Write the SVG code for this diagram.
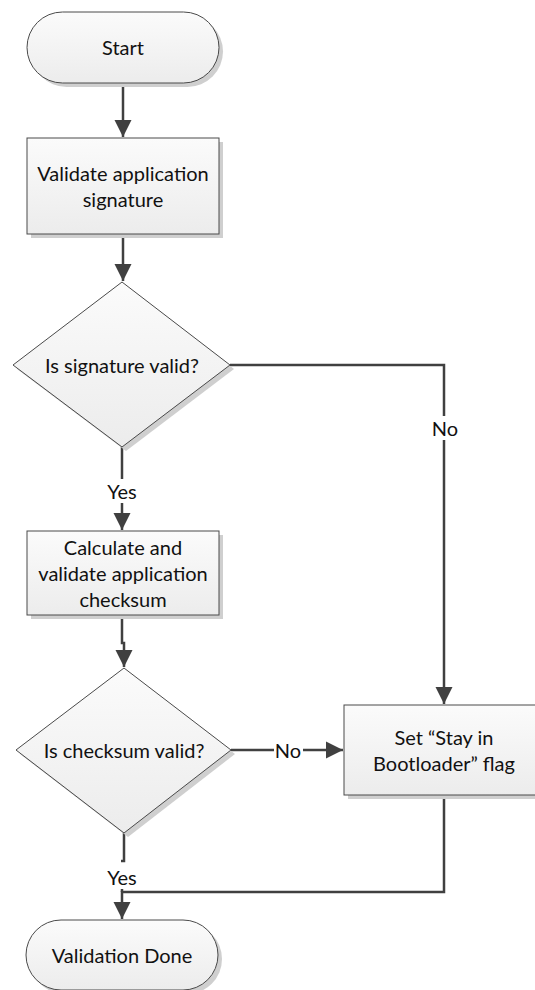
<svg xmlns="http://www.w3.org/2000/svg" width="535" height="990" viewBox="0 0 535 990">
  <defs>
    <linearGradient id="nodeFill" x1="0" y1="0" x2="0" y2="1">
      <stop offset="0" stop-color="#fbfbfb"/>
      <stop offset="1" stop-color="#ececec"/>
    </linearGradient>
    <marker id="arrow" viewBox="0 0 10 10" refX="10" refY="5" markerWidth="7" markerHeight="7" markerUnits="strokeWidth" orient="auto">
      <path d="M0,0 L10,5 L0,10 z" fill="#404040"/>
    </marker>
  </defs>
  <style>
    .node { fill: url(#nodeFill); stroke: #4a4a4a; stroke-width: 1; }
    .shadow { fill: #cfcfcf; }
    .label { font-family: "Lato", "Liberation Sans", sans-serif; font-size: 20px; fill: #111; text-anchor: middle; dominant-baseline: central; }
    .edge { fill: none; stroke: #404040; stroke-width: 2.5; }
    .arrow { marker-end: url(#arrow); }
    .elabel-bg { fill: #ffffff; }
  </style>
  <rect width="535" height="990" fill="#ffffff"/>

  <!-- connectors -->
  <g id="connectors">
    <path class="edge arrow" d="M123,83 V137"/>
    <path class="edge arrow" d="M123,234 V281"/>
    <path class="edge arrow" d="M230,365 H444 V704"/>
    <path class="edge arrow" d="M122,447 V530"/>
    <path class="edge arrow" d="M122,615 V643 H124 V667"/>
    <path class="edge arrow" d="M231,750 H343"/>
    <path class="edge" d="M124,833 V861 H121"/>
    <path class="edge arrow" d="M444,795 V892 H122 V919"/>
    <path class="edge" d="M122,878 V892"/>
    <!-- branch labels -->
    <rect class="elabel-bg" x="428" y="416" width="32" height="24"/>
    <text class="label" x="445" y="428">No</text>
    <rect class="elabel-bg" x="103" y="479" width="38" height="24"/>
    <text class="label" x="122" y="491">Yes</text>
    <rect class="elabel-bg" x="274" y="738" width="29" height="24"/>
    <text class="label" x="288" y="750">No</text>
    <rect class="elabel-bg" x="103" y="865" width="38" height="24"/>
    <text class="label" x="122" y="877">Yes</text>
  </g>

  <!-- Start -->
  <g id="start">
    <rect class="shadow" x="31" y="16" width="192" height="71" rx="35.5"/>
    <rect class="node" x="27" y="12" width="192" height="71" rx="35.5"/>
    <text class="label" x="123" y="47">Start</text>
  </g>

  <!-- Validate application signature -->
  <g id="validate-signature">
    <rect class="shadow" x="31" y="142" width="192" height="96"/>
    <rect class="node" x="27" y="138" width="192" height="96"/>
    <text class="label" x="123" y="173">Validate application</text>
    <text class="label" x="123" y="199">signature</text>
  </g>

  <!-- Is signature valid? -->
  <g id="signature-valid">
    <polygon class="shadow" points="126,286 234,369 126,451 17,369"/>
    <polygon class="node" points="122,282 230,365 122,447 13,365"/>
    <text class="label" x="122" y="365">Is signature valid?</text>
  </g>

  <!-- Calculate and validate application checksum -->
  <g id="calc-checksum">
    <rect class="shadow" x="31" y="535" width="192" height="84"/>
    <rect class="node" x="27" y="531" width="192" height="84"/>
    <text class="label" x="123" y="547">Calculate and</text>
    <text class="label" x="123" y="573">validate application</text>
    <text class="label" x="123" y="599">checksum</text>
  </g>

  <!-- Is checksum valid? -->
  <g id="checksum-valid">
    <polygon class="shadow" points="128,672 235,754 128,837 20,754"/>
    <polygon class="node" points="124,668 231,750 124,833 16,750"/>
    <text class="label" x="124" y="750">Is checksum valid?</text>
  </g>

  <!-- Set "Stay in Bootloader" flag -->
  <g id="stay-in-bootloader">
    <rect class="shadow" x="348" y="709" width="200" height="90"/>
    <rect class="node" x="344" y="705" width="200" height="90"/>
    <text class="label" x="444" y="737">Set “Stay in</text>
    <text class="label" x="444" y="763">Bootloader” flag</text>
  </g>

  <!-- Validation Done -->
  <g id="validation-done">
    <rect class="shadow" x="30" y="924" width="192" height="70" rx="35"/>
    <rect class="node" x="26" y="920" width="192" height="70" rx="35"/>
    <text class="label" x="122" y="955">Validation Done</text>
  </g>
</svg>
